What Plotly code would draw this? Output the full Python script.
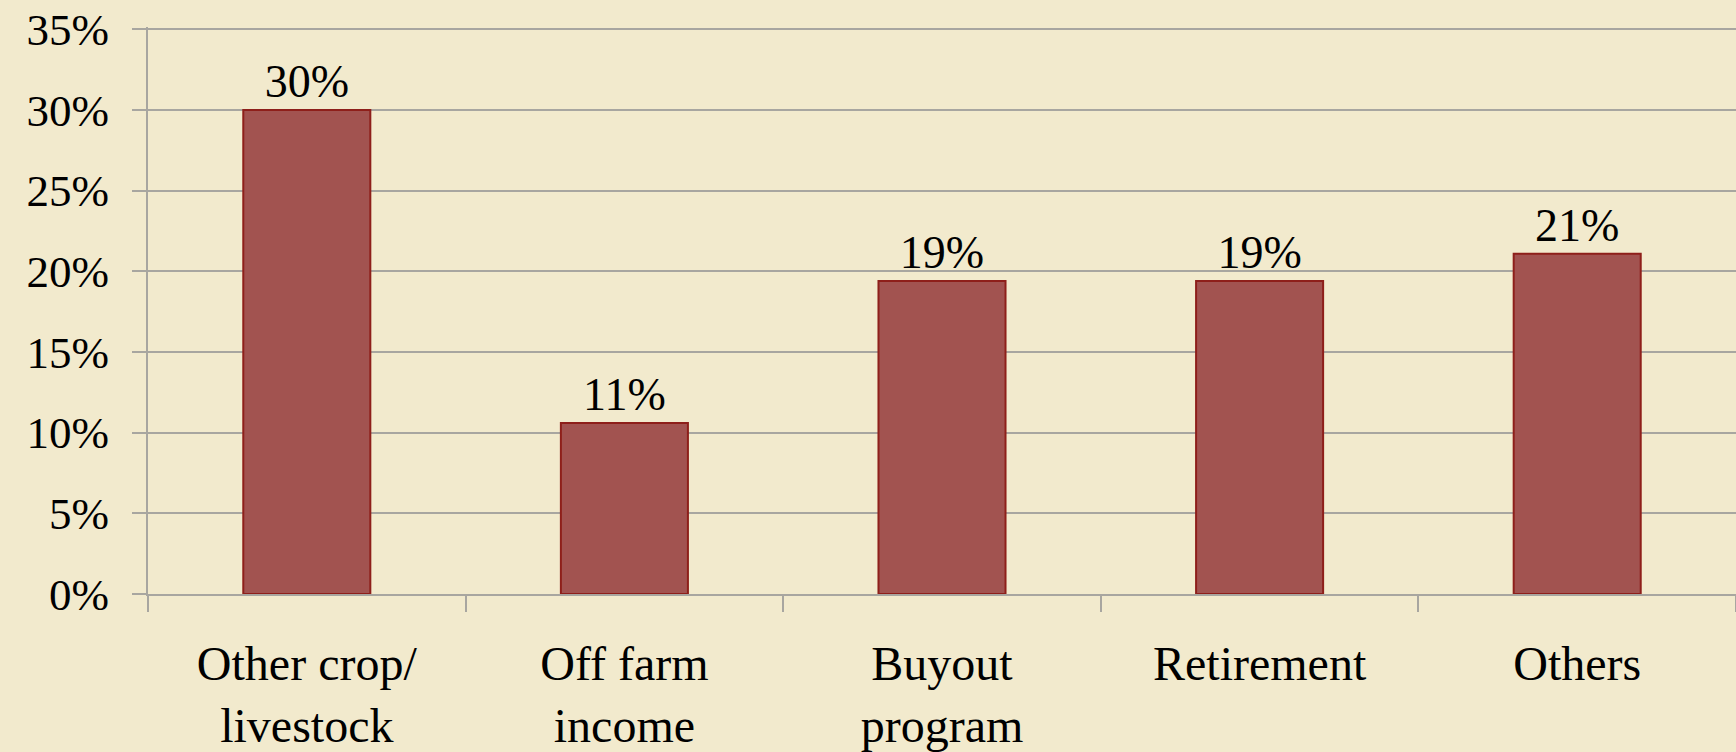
import plotly.graph_objects as go

categories = ["Other crop/<br>livestock", "Off farm<br>income", "Buyout<br>program", "Retirement", "Others"]
values = [30.0, 10.6, 19.4, 19.4, 21.1]
labels = ["30%", "11%", "19%", "19%", "21%"]
y_ticks = [0, 5, 10, 15, 20, 25, 30, 35]
y_tick_text = ["0%", "5%", "10%", "15%", "20%", "25%", "30%", "35%"]

BG = "#F2EACD"
GRID = "#A8A6A0"
FONT = "Liberation Serif, Georgia, serif"

fig = go.Figure(
    go.Bar(
        x=categories,
        y=values,
        text=labels,
        textposition="outside",
        cliponaxis=False,
        textfont=dict(family=FONT, size=46, color="#000000"),
        marker=dict(color="#A25350", line=dict(color="#8E1F1A", width=2)),
        width=0.4,
    )
)

fig.update_layout(
    width=1736,
    height=752,
    margin=dict(l=148, r=0, t=27, b=158),
    paper_bgcolor=BG,
    plot_bgcolor=BG,
    showlegend=False,
    bargap=0.6,
)

fig.update_yaxes(
    range=[0, 35.15],
    tickvals=y_ticks,
    ticktext=y_tick_text,
    automargin=False,
    showgrid=True,
    gridcolor=GRID,
    gridwidth=2,
    zeroline=False,
    showline=True,
    linecolor=GRID,
    linewidth=2,
    ticks="outside",
    ticklen=14,
    tickwidth=2,
    tickcolor=GRID,
    ticklabelstandoff=14,
    ticklabeloverflow="allow",
    tickfont=dict(family=FONT, size=45, color="#000000"),
)

fig.update_xaxes(
    automargin=False,
    showgrid=False,
    showline=True,
    linecolor=GRID,
    linewidth=2,
    ticks="outside",
    tickson="boundaries",
    ticklen=16,
    tickwidth=2,
    tickcolor=GRID,
    ticklabelstandoff=26,
    tickfont=dict(family=FONT, size=48, color="#000000"),
)

fig.write_html(
    "out.html",
    config={"displayModeBar": False},
    post_script="document.body.style.margin='0';",
)
